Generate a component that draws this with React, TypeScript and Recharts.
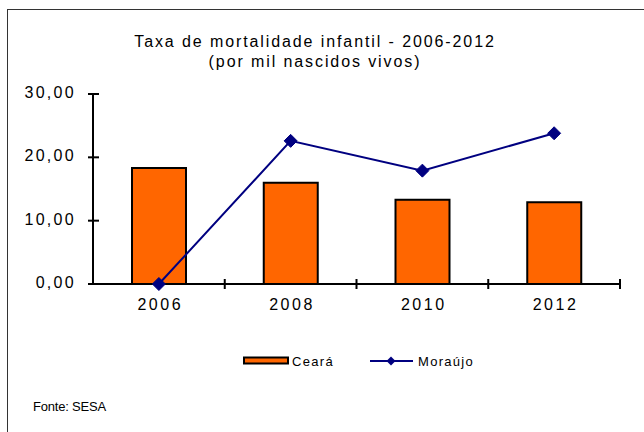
import React from "react";
import { ComposedChart, Bar, Line, XAxis, YAxis } from "recharts";

const categories = ["2006", "2008", "2010", "2012"];
const cearaValues = [18.3, 16.0, 13.3, 12.9];
const moraujoValues = [0, 22.6, 17.9, 23.8];
const yTicks = [0, 10, 20, 30];

const data = categories.map((c, i) => ({ year: c, ceara: cearaValues[i], moraujo: moraujoValues[i] }));

const FONT = "'Liberation Sans', Arial, sans-serif";
const fmt = (v: number) => v.toFixed(2).replace(".", ",");

const YTick = (p: any) => {
  const { x, y, payload } = p;
  return (
    <g>
      <line x1={x - 5} x2={x + 6} y1={y} y2={y} stroke="#000" strokeWidth={2} />
      <text x={x - 17} y={y} dy={4} textAnchor="end" fontFamily={FONT} fontSize={16} letterSpacing={2.3} fill="#000">
        {fmt(payload.value)}
      </text>
    </g>
  );
};

const XTick = (p: any) => {
  const { x, y, payload, width, visibleTicksCount } = p;
  const band = width && visibleTicksCount ? width / visibleTicksCount : 131.75;
  return (
    <g>
      <line x1={x + band / 2} x2={x + band / 2} y1={y - 5} y2={y + 5} stroke="#000" strokeWidth={2} />
      <text x={x + 1.5} y={y} dy={26} textAnchor="middle" fontFamily={FONT} fontSize={16} letterSpacing={2.6} fill="#000">
        {payload.value}
      </text>
    </g>
  );
};

const Diamond = (p: any) => {
  const { cx, cy } = p;
  if (cx == null || cy == null) return null;
  const s = 6.5;
  return <polygon points={`${cx},${cy - s} ${cx + s},${cy} ${cx},${cy + s} ${cx - s},${cy}`} fill="#000080" stroke="#000080" />;
};

export default function App() {
  return (
    <div style={{ position: "absolute", left: 0, top: 0, width: 644, height: 432, overflow: "hidden", background: "#fff", fontFamily: FONT }}>
      <div style={{ position: "absolute", left: 7, top: 9, width: 700, height: 500, borderLeft: "1px solid #333", borderTop: "1px solid #333" }} />
      <div style={{ position: "absolute", left: 0, width: 630, top: 32, textAlign: "center", fontSize: 16, letterSpacing: 1.9, lineHeight: "20px", color: "#000" }}>
        Taxa de mortalidade infantil - 2006-2012
        <br />
        (por mil nascidos vivos)
      </div>
      <div style={{ position: "absolute", left: 0, top: 0 }}>
        <ComposedChart width={644} height={432} data={data} margin={{ top: 94, right: 24, bottom: 118, left: 0 }}>
          <XAxis
            dataKey="year"
            height={30}
            tickSize={0}
            tickMargin={0}
            tickLine={false}
            axisLine={{ stroke: "#000", strokeWidth: 2 }}
            tick={<XTick />}
          />
          <YAxis
            width={93}
            domain={[0, 30]}
            ticks={yTicks}
            tickSize={0}
            tickMargin={0}
            tickLine={false}
            axisLine={{ stroke: "#000", strokeWidth: 2 }}
            tick={<YTick />}
          />
          <Bar dataKey="ceara" fill="#FF6600" stroke="#000" strokeWidth={2} barSize={54} isAnimationActive={false} />
          <Line dataKey="moraujo" stroke="#000080" strokeWidth={2} dot={<Diamond />} activeDot={false} isAnimationActive={false} />
        </ComposedChart>
      </div>
      <svg style={{ position: "absolute", left: 0, top: 0 }} width={644} height={432}>
        <rect x={244} y={357.5} width={44} height={6} fill="#FF6600" stroke="#000" strokeWidth={2} />
        <text x={292} y={366} fontFamily={FONT} fontSize={13} letterSpacing={1.3} fill="#000">Ceará</text>
        <line x1={370} x2={413} y1={361} y2={361} stroke="#000080" strokeWidth={2} />
        <polygon points="391,356.5 395.5,361 391,365.5 386.5,361" fill="#000080" />
        <text x={418} y={366} fontFamily={FONT} fontSize={13} letterSpacing={1.3} fill="#000">Moraújo</text>
      </svg>
      <div style={{ position: "absolute", left: 33, top: 400, fontSize: 13, letterSpacing: -0.2, lineHeight: "14px", color: "#000" }}>
        Fonte: SESA
      </div>
    </div>
  );
}
